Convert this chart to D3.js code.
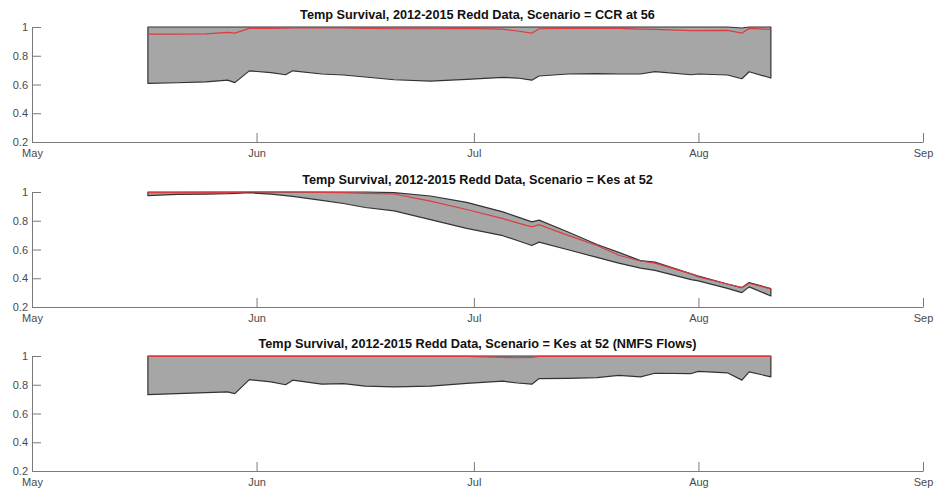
<!DOCTYPE html>
<html>
<head>
<meta charset="utf-8">
<script src="https://cdn.jsdelivr.net/npm/d3@7"></script>
<style>
  body { margin: 0; background: #fff; }
  svg { display: block; font-family: "Liberation Sans", Arial, sans-serif; }
  .axis path, .axis line { stroke: #7a7a7a; }
  .axis text { fill: #4a4a4a; font-size: 11px; }
  .title { font-size: 12.7px; font-weight: bold; fill: #111; }
</style>
</head>
<body>
<script>
// sample dates (2015 season, redd data)
var dates = ["2015-05-17","2015-05-21","2015-05-25","2015-05-28","2015-05-29","2015-05-31",
  "2015-06-03","2015-06-05","2015-06-06","2015-06-10","2015-06-13","2015-06-16","2015-06-20",
  "2015-06-25","2015-06-30","2015-07-05","2015-07-07","2015-07-09","2015-07-10","2015-07-14",
  "2015-07-18","2015-07-21","2015-07-24","2015-07-26","2015-07-31","2015-08-01","2015-08-05",
  "2015-08-07","2015-08-08","2015-08-11"];

// CCR at 56
var upper1 = [1,1,1,1,1,1,1,1,1,1,1,1,1,1,1,1,1,1,1,1,1,1,1,1,1,1,1,0.993,1,1];
var mean1  = [0.951,0.951,0.952,0.962,0.958,0.99,0.99,0.992,0.993,0.993,0.993,0.99,0.988,
  0.988,0.99,0.985,0.972,0.958,0.988,0.99,0.99,0.99,0.985,0.983,0.975,0.975,0.976,0.958,0.99,0.983];
var lower1 = [0.608,0.612,0.618,0.63,0.613,0.695,0.682,0.668,0.695,0.673,0.666,0.652,0.633,
  0.624,0.635,0.65,0.645,0.63,0.659,0.673,0.675,0.673,0.673,0.69,0.668,0.673,0.666,0.64,0.689,0.645];

// Kes at 52
var upper2 = [1,1,1,1,1,1,1,1,1,1,1,1,0.995,0.972,0.928,0.862,0.827,0.792,0.804,0.722,
  0.635,0.58,0.523,0.512,0.43,0.415,0.36,0.335,0.37,0.328];
var mean2  = [0.995,0.996,0.997,0.998,0.998,1,1,1,1,0.998,0.995,0.99,0.986,0.937,0.878,
  0.815,0.785,0.757,0.773,0.698,0.628,0.56,0.52,0.505,0.43,0.41,0.36,0.335,0.365,0.325];
var lower2 = [0.975,0.983,0.985,0.988,0.99,0.995,0.985,0.975,0.97,0.942,0.92,0.892,0.869,
  0.808,0.747,0.696,0.663,0.628,0.651,0.598,0.545,0.505,0.471,0.455,0.39,0.382,0.33,0.3,0.34,0.277];

// Kes at 52 (NMFS Flows)
var upper3 = [1,1,1,1,1,1,1,1,1,1,1,1,1,1,1,1,1,1,1,1,1,1,1,1,1,1,1,1,1,1];
var mean3  = [0.997,0.997,0.997,0.997,0.998,0.998,0.998,0.998,0.998,0.998,0.998,0.998,0.998,
  0.998,0.998,0.99,0.988,0.99,0.998,0.998,0.998,0.998,0.998,0.998,0.998,0.998,0.998,0.998,0.998,0.998];
var lower3 = [0.731,0.738,0.745,0.75,0.738,0.836,0.82,0.8,0.832,0.804,0.808,0.79,0.785,
  0.79,0.81,0.825,0.812,0.804,0.843,0.845,0.85,0.865,0.855,0.88,0.878,0.893,0.883,0.832,0.89,0.855];

var titles = ["Temp Survival, 2012-2015 Redd Data, Scenario = CCR at 56",
  "Temp Survival, 2012-2015 Redd Data, Scenario = Kes at 52",
  "Temp Survival, 2012-2015 Redd Data, Scenario = Kes at 52 (NMFS Flows)"];
var yTicks = [0.2, 0.4, 0.6, 0.8, 1];

var panels = [
  {title: titles[0], upper: upper1, mean: mean1, lower: lower1},
  {title: titles[1], upper: upper2, mean: mean2, lower: lower2},
  {title: titles[2], upper: upper3, mean: mean3, lower: lower3}
];

var width = 936, height = 491;
var left = 32, right = 923;
var tops = [27, 192, 356], ph = 115;

var parse = d3.timeParse("%Y-%m-%d");
var days = dates.map(parse);

var svg = d3.select("body").append("svg")
  .attr("width", width)
  .attr("height", height);

var x = d3.scaleTime()
  .domain([parse("2015-05-01"), parse("2015-09-01")])
  .range([left, right]);

panels.forEach(function(p, k) {
  var top = tops[k];
  var y = d3.scaleLinear().domain([0.2, 1]).range([top + ph, top]);

  var rows = days.map(function(d, i) {
    return {date: d, lo: p.lower[i], hi: p.upper[i], m: p.mean[i]};
  });

  var area = d3.area()
    .x(function(d) { return x(d.date); })
    .y0(function(d) { return y(d.lo); })
    .y1(function(d) { return y(d.hi); });

  svg.append("path")
    .datum(rows)
    .attr("d", function(d) { return area(d) + "Z"; })
    .attr("fill", "#a6a6a6")
    .attr("stroke", "#333")
    .attr("stroke-width", 1.2)
    .attr("stroke-linejoin", "round");

  svg.append("path")
    .datum(rows)
    .attr("d", d3.line()
      .x(function(d) { return x(d.date); })
      .y(function(d) { return y(d.m); }))
    .attr("fill", "none")
    .attr("stroke", "#dc3c40")
    .attr("stroke-width", 1.2);

  var xa = svg.append("g")
    .attr("class", "axis")
    .attr("transform", "translate(0," + (top + ph) + ")")
    .call(d3.axisBottom(x)
      .ticks(d3.timeMonth.every(1))
      .tickFormat(d3.timeFormat("%b"))
      .tickSizeInner(-9)
      .tickSizeOuter(0)
      .tickPadding(5));
  xa.selectAll("text").attr("dy", "0.9em");

  svg.append("g")
    .attr("class", "axis")
    .attr("transform", "translate(" + left + ",0)")
    .call(d3.axisLeft(y)
      .tickValues(yTicks)
      .tickFormat(d3.format("~g"))
      .tickSizeInner(-9)
      .tickSizeOuter(0)
      .tickPadding(4));

  svg.append("text")
    .attr("class", "title")
    .attr("x", (left + right) / 2)
    .attr("y", top - 8)
    .attr("text-anchor", "middle")
    .text(p.title);
});
</script>
</body>
</html>
